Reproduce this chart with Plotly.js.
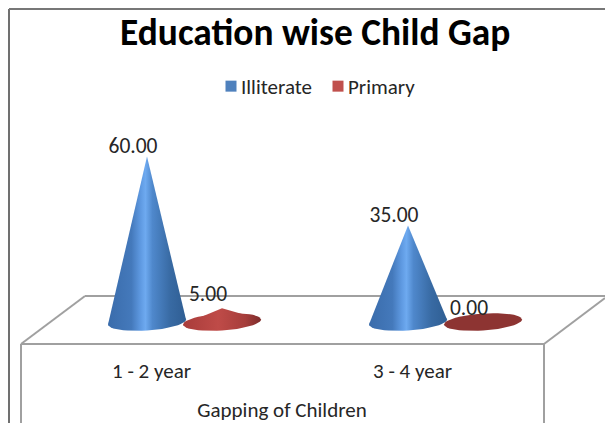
<!DOCTYPE html>
<html>
<head>
<meta charset="utf-8">
<script src="https://cdn.plot.ly/plotly-3.0.1.min.js"></script>
<style>html,body{margin:0;padding:0;background:#fff}#c{width:605px;height:423px}</style>
</head>
<body>
<div id="c"></div>
<script>
var categories = ["1 - 2 year", "3 - 4 year"];
var illiterate = [60, 35];
var primary = [5, 0];
var seriesNames = ["Illiterate", "Primary"];
var axisTitle = "Gapping of Children";
var chartTitle = "Education wise Child Gap";

var FONT = "Carlito, 'Open Sans', 'Noto Sans', sans-serif";
var W = 605, H = 423, PLOT_B = 344, PLOT_R = 564;
var PX_X = 261, X0 = 147, PX_Y = 2.76, Y0 = 322;
var HALF = 39 / PX_X, OFFSET = 75 / PX_X, RY = 8.5 / PX_Y, TILT = 2.5 / PX_Y;
var LABEL_DX = -14 / PX_X;

var blueScale = [[0,"#3a6cab"],[0.3,"#4479bb"],[0.42,"#5f9ae2"],[0.48,"#6eaaf0"],[0.57,"#4f88cc"],[0.8,"#386aa3"],[1,"#2f5e93"]];
var redScale = [[0,"#a83c3a"],[0.45,"#bf4b48"],[0.8,"#a63e3b"],[1,"#7d2c2b"]];
var flatRed = [[0,"#8d3432"],[1,"#8d3432"]];

function coneTraces(cx, v, scale) {
  var ex = [], ey = [], n = 48;
  for (var i = 0; i <= n; i++) {
    var a = 2 * Math.PI * i / n;
    ex.push(cx + HALF * Math.cos(a));
    ey.push(TILT * Math.cos(a) + RY * Math.sin(a));
  }
  var grad = {type: "horizontal", colorscale: scale};
  var common = {mode: "lines", line: {width: 0}, fill: "toself", fillgradient: grad,
                fillcolor: "rgba(0,0,0,0)", showlegend: false, hoverinfo: "skip"};
  var out = [Object.assign({x: ex, y: ey}, common)];
  if (v > 0) {
    out.push(Object.assign({
      x: [cx - HALF, cx, cx + HALF, cx - HALF],
      y: [-TILT, v, TILT, -TILT]
    }, common));
  }
  return out;
}

var traces = [];
categories.forEach(function (c, i) {
  traces = traces.concat(coneTraces(i, illiterate[i], blueScale));
  traces = traces.concat(coneTraces(i + OFFSET, primary[i], primary[i] > 0 ? redScale : flatRed));
});
var labelFont = {family: FONT, size: 21.5, color: "#262626"};
traces.push({x: [LABEL_DX, 1 + LABEL_DX],
  y: illiterate.map(function (v) { return v - 2 / PX_Y; }), mode: "text",
  text: illiterate.map(function (v) { return v.toFixed(2); }),
  textposition: "top center", textfont: labelFont, showlegend: false, hoverinfo: "skip"});
traces.push({x: [OFFSET + LABEL_DX, 1 + OFFSET + LABEL_DX],
  y: primary.map(function (v) { return v + 1.5 / PX_Y; }), mode: "text",
  text: primary.map(function (v) { return v.toFixed(2); }),
  textposition: "top center", textfont: labelFont, showlegend: false, hoverinfo: "skip"});
traces.push({x: [null], y: [null], name: seriesNames[0], mode: "markers",
  marker: {symbol: "square", size: 11, color: "#4f81bd"}});
traces.push({x: [null], y: [null], name: seriesNames[1], mode: "markers",
  marker: {symbol: "square", size: 11, color: "#c0504d"}});

var grey = {color: "#a0a0a0", width: 2};
function px(x) { return x / PLOT_R; }
function py(y) { return 1 - y / PLOT_B; }
function seg(x0, y0, x1, y1, line) {
  return {type: "line", xref: "paper", yref: "paper", x0: px(x0), x1: px(x1),
          y0: py(y0), y1: py(y1), line: line, layer: "below"};
}
var frame = [
  seg(21, 344, 544, 344, grey),
  seg(21, 344, 85, 296, grey),
  seg(85, 296, 605, 296, grey),
  seg(544, 344, 605, 298, grey),
  seg(21, 344, 21, 423, grey),
  seg(544, 344, 544, 423, grey),
  seg(9, 9, 9, 423, {color: "#404040", width: 1.5}),
  seg(9, 9, 605, 9, {color: "#777777", width: 2})
];

var layout = {
  width: W, height: H, paper_bgcolor: "#fff", plot_bgcolor: "rgba(0,0,0,0)",
  margin: {l: 0, r: W - PLOT_R, t: 0, b: H - PLOT_B},
  showlegend: true,
  legend: {orientation: "h", x: px(308), xanchor: "center", y: py(66), yanchor: "top",
           font: {family: FONT, size: 21, color: "#262626"}, itemwidth: 30,
           entrywidth: 62, entrywidthmode: "pixels", bgcolor: "rgba(0,0,0,0)"},
  title: {text: "<b>" + chartTitle + "</b>", font: {family: FONT, size: 37.4, color: "#000"},
          x: 0.521, xanchor: "center", y: 1 - 32 / H, yanchor: "middle"},
  xaxis: {range: [-X0 / PX_X, (PLOT_R - X0) / PX_X], tickmode: "array",
          tickvals: [4.5 / PX_X, 1 + 4.5 / PX_X], ticktext: categories,
          showgrid: false, zeroline: false, showline: false, ticks: "", ticklabelstandoff: 12,
          tickfont: {family: FONT, size: 21, color: "#262626"},
          title: {text: axisTitle, font: {family: FONT, size: 21, color: "#262626"}, standoff: 20}},
  yaxis: {range: [(Y0 - PLOT_B) / PX_Y, Y0 / PX_Y], visible: false, showgrid: false, zeroline: false},
  shapes: frame
};
Plotly.newPlot("c", traces, layout, {displayModeBar: false, staticPlot: true}).then(function (gd) {
  gd.querySelectorAll(".legend .legendpoints").forEach(function (n) {
    n.setAttribute("transform", "translate(10,0)");
  });
});
</script>
</body>
</html>
